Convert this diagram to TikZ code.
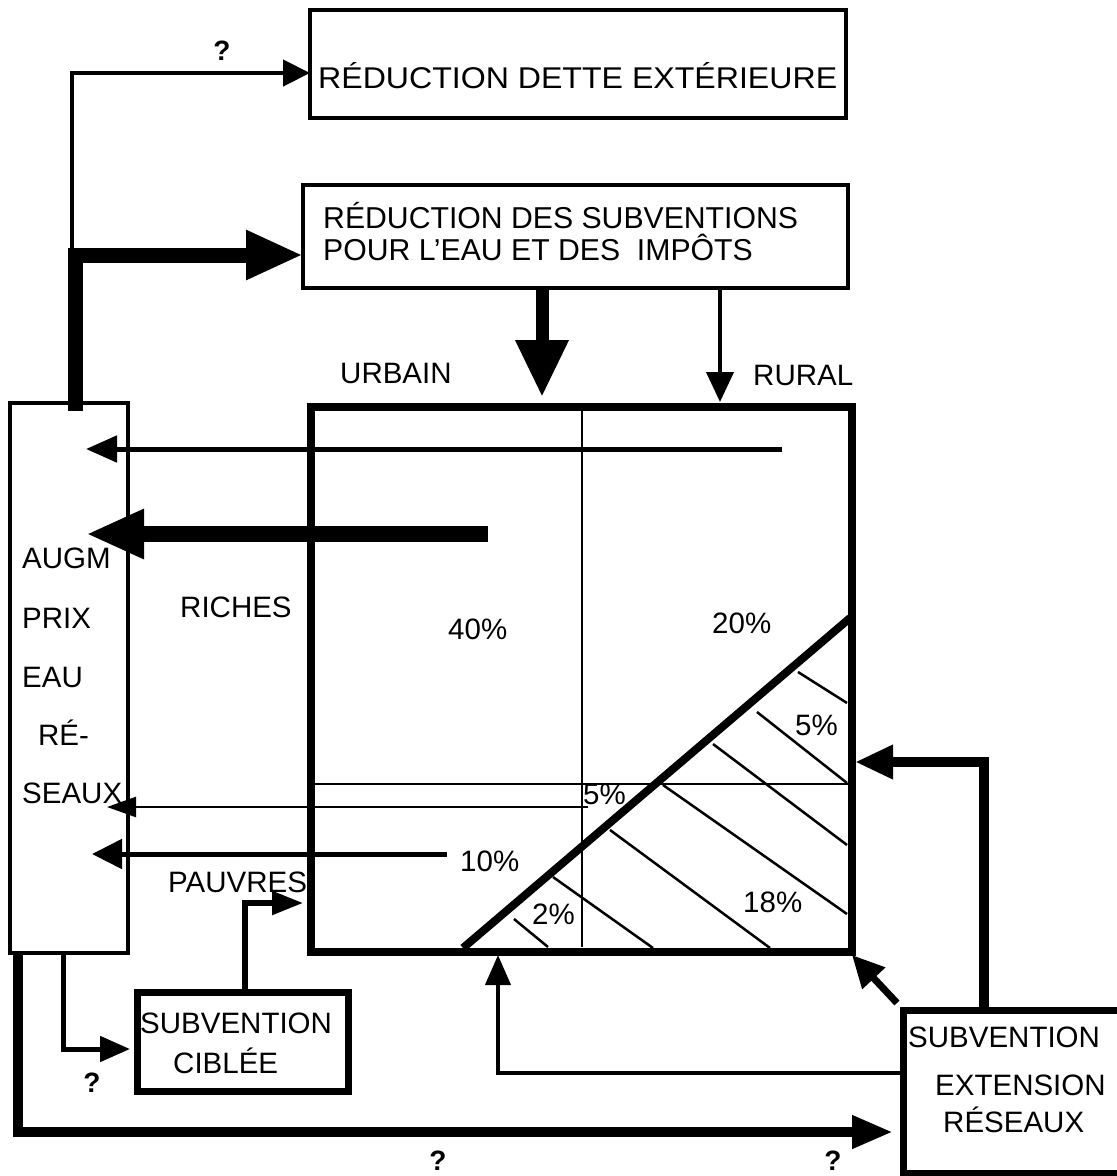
\documentclass[tikz,border=0pt]{standalone}
\usepackage{fontspec}
\setmainfont{Liberation Sans}
\usetikzlibrary{arrows.meta,calc}
\begin{document}
\begin{tikzpicture}[x=1pt,y=-1pt,
  box/.style={draw, rectangle, inner sep=0pt, outer sep=0pt, anchor=north west},
  lbl/.style={anchor=base west, inner sep=0pt, font=\fontsize{29.5}{32}\selectfont},
  qm/.style={anchor=base, inner sep=0pt, font=\bfseries\fontsize{28}{30}\selectfont},
  hatch/.style={line width=2.5pt},
]
\useasboundingbox (0,0) rectangle (1117,1176);

% boxes
\node[box, line width=4.5pt, minimum width=536pt, minimum height=108pt] (dette) at (310,10) {};
\node[box, line width=4.5pt, minimum width=545pt, minimum height=103pt] (subv) at (303,185) {};
\node[box, line width=8pt, minimum width=541pt, minimum height=545pt] (mainbox) at (311,407) {};
\node[box, line width=3.5pt, minimum width=118pt, minimum height=550pt] (augm) at (10,403) {};
\node[box, line width=7pt, minimum width=211pt, minimum height=99pt] (cible) at (137,992) {};
\node[box, line width=7pt, minimum width=230pt, minimum height=163pt] (ext) at (903,1010) {};

% interior of main box
\draw[line width=2.5pt] ($(mainbox.north west)+(271,-4)$) coordinate (dvtop) -- ($(mainbox.south west)+(271,-5)$) coordinate (dvbot);
\draw[line width=2.5pt] ($(mainbox.north west)+(0,377)$) coordinate (hl) -- ($(mainbox.north east)+(0,377)$) coordinate (hr);
\draw[line width=8pt] ($(mainbox.south west)+(152,-4)$) coordinate (dg1) -- ($(mainbox.north east)+(-2,211)$) coordinate (dg2);
\draw[hatch] (798,672) -- (847,703);
\draw[hatch] (757,712) -- (847,783);
\draw[hatch] (713,744) -- (847,845);
\draw[hatch] (663,785) -- (847,914);
\draw[hatch] (610,830) -- (770,948);
\draw[hatch] (553,877) -- (653,948);
\draw[hatch] (514,919) -- (548,947);

% connectors at the top
\draw[line width=4.5pt, -{Triangle[length=27pt,width=26pt]}]
  ($(augm.north west)+(62,0)$) |- ($(dette.north west)+(0,63)$);
\draw[line width=15pt, -{Triangle[length=57pt,width=46pt]}]
  ($(augm.north west)+(65,8)$) |- ($(subv.north west)+(0,70)$);
\draw[line width=13pt, -{Triangle[length=57pt,width=50pt]}]
  ($(subv.south west)+(239,0)$) -- ($(mainbox.north west)+(231,-10)$);
\draw[line width=4pt, -{Triangle[length=30pt,width=27pt]}]
  ($(subv.south west)+(417,0)$) -- ($(mainbox.north west)+(409,-5)$);

% flows from the main box to the price box
\draw[line width=5pt, -{Triangle[length=31pt,width=26pt]}]
  ($(mainbox.north west)+(471,42)$) -- ($(augm.north west)+(76,46)$);
\draw[line width=16pt, -{Triangle[length=58pt,width=46pt]}]
  ($(mainbox.north west)+(177,127)$) -- ($(augm.north west)+(76,131)$);
\draw[line width=2.5pt, -{Triangle[length=29pt,width=20pt]}]
  ($(mainbox.north west)+(277,400)$) -- ($(augm.north west)+(97,404)$);
\draw[line width=5pt, -{Triangle[length=30pt,width=29pt]}]
  ($(mainbox.north west)+(136,447)$) -- ($(augm.north west)+(82,451)$);

% lower connectors
\draw[line width=5.5pt, -{Triangle[length=31pt,width=23pt]}]
  ($(cible.north west)+(108,0)$) |- ($(mainbox.north west)+(-8,496)$);
\draw[line width=5pt, -{Triangle[length=30pt,width=25pt]}]
  ($(augm.south west)+(53,0)$) |- ($(cible.north west)+(-7,57)$);
\draw[line width=10pt, -{Triangle[length=41pt,width=31pt]}]
  ($(augm.south west)+(8,0)$) |- ($(ext.north west)+(-10,122)$);
\draw[line width=4pt, -{Triangle[length=30pt,width=25pt]}]
  ($(ext.north west)+(0,63)$) -| ($(mainbox.south west)+(187,3)$);
\draw[line width=7pt, -{Triangle[length=32pt,width=30pt]}]
  ($(ext.north west)+(-6,-7)$) -- ($(mainbox.south east)+(0,3)$);
\draw[line width=10pt, -{Triangle[length=38pt,width=32pt]}]
  ($(ext.north west)+(81,0)$) |- ($(mainbox.north east)+(3,355)$);

% texts
\node[lbl] (tdette) at (318,88) {\fontsize{30}{32}\selectfont\scalebox{1.07}[1]{RÉDUCTION DETTE EXTÉRIEURE}};
\node[lbl, font=\fontsize{30.2}{32}\selectfont] (tsub1) at (323,228) {RÉDUCTION DES SUBVENTIONS};
\node[lbl, font=\fontsize{30.2}{32}\selectfont] (tsub2) at (323,260) {POUR L’EAU ET DES\ \ IMPÔTS};
\node[lbl] (turb) at (340,383) {URBAIN};
\node[lbl] (trur) at (753,385) {RURAL};
\node[lbl] (ta1) at (22,568) {AUGM};
\node[lbl] (ta2) at (22,628) {PRIX};
\node[lbl] (ta3) at (22,687) {EAU};
\node[lbl] (ta4) at (38,745) {RÉ-};
\node[lbl] (ta5) at (22,803) {SEAUX};
\node[lbl] (trich) at (180,617) {RICHES};
\node[lbl] (tpauv) at (168,892) {PAUVRES};
\node[lbl] (p40) at (448,639) {40\%};
\node[lbl] (p20) at (712,633) {20\%};
\node[lbl] (p5a) at (795,735) {5\%};
\node[lbl] (p5b) at (583,804) {5\%};
\node[lbl] (p10) at (460,871) {10\%};
\node[lbl] (p2) at (532,924) {2\%};
\node[lbl] (p18) at (743,912) {18\%};
\node[lbl] (tc1) at (140,1033) {SUBVENTION};
\node[lbl] (tc2) at (173,1073) {CIBLÉE};
\node[lbl] (te1) at (908,1047) {SUBVENTION};
\node[lbl] (te2) at (935,1095) {EXTENSION};
\node[lbl] (te3) at (943,1132) {RÉSEAUX};
\node[qm] (q1) at (222,60) {?};
\node[qm] (q2) at (92,1092) {?};
\node[qm] (q3) at (438,1170) {?};
\node[qm] (q4) at (833,1170) {?};
\end{tikzpicture}
\end{document}
